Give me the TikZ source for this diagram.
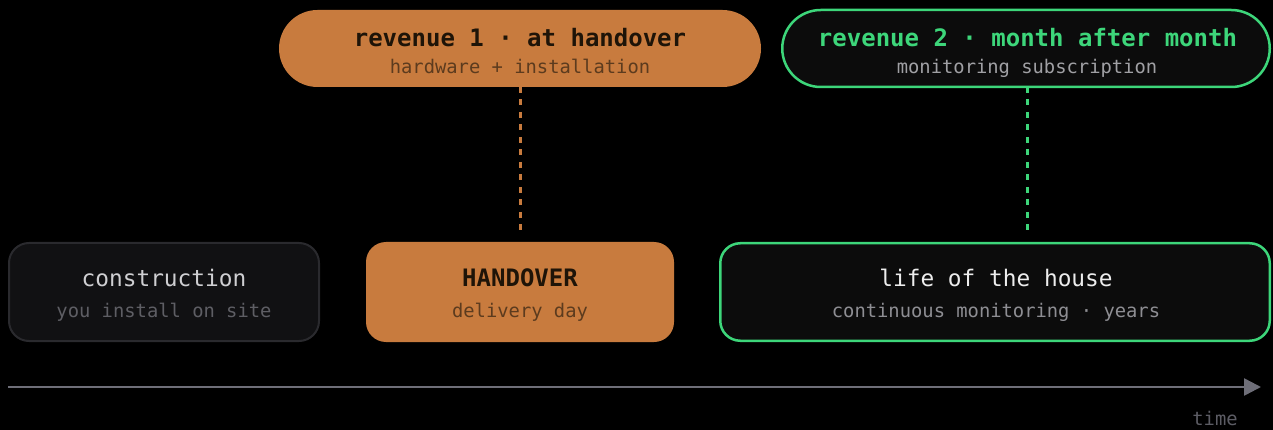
\documentclass[tikz,border=0pt]{standalone}
\usepackage{fontspec}
\setmonofont{DejaVu Sans Mono}
\newfontfamily\monofam{DejaVu Sans Mono}
\usetikzlibrary{arrows.meta}

\definecolor{bgblack}{HTML}{000000}
\definecolor{rust}{HTML}{C87B3E}
\definecolor{rustink}{HTML}{1E1408}
\definecolor{rustsub}{HTML}{5C3B1E}
\definecolor{mint}{HTML}{3DD67A}
\definecolor{panel}{HTML}{0C0C0C}
\definecolor{dimpanel}{HTML}{111113}
\definecolor{dimedge}{HTML}{2A2A2E}
\definecolor{dimtitle}{HTML}{CFCFD2}
\definecolor{dimsub}{HTML}{5E5E64}
\definecolor{brighttitle}{HTML}{EDEDED}
\definecolor{greysub}{HTML}{8E8E93}
\definecolor{lightsub}{HTML}{A0A0A4}
\definecolor{axis}{HTML}{6E6E78}
\definecolor{axislabel}{HTML}{5C5C64}

\tikzset{
  box/.style={rectangle, inner sep=0pt, outer sep=0pt},
  pill/.style={box, minimum height=77pt, rounded corners=38.5pt},
  card/.style={box, minimum height=98pt, rounded corners=20pt},
  boldtitle/.style={anchor=base, inner sep=0pt, font=\monofam\bfseries\fontsize{24}{28}\selectfont},
  plaintitle/.style={anchor=base, inner sep=0pt, font=\monofam\fontsize{22.8}{27}\selectfont},
  subline/.style={anchor=base, inner sep=0pt, font=\monofam\fontsize{18.8}{22}\selectfont},
  tie/.style={line width=3pt, dash pattern=on 6pt off 6.5pt},
}

\begin{document}
\begin{tikzpicture}[x=1pt, y=-1pt]
  \useasboundingbox (0,0) rectangle (1273,430);
  \fill[bgblack] (0,0) rectangle (1273,430);

  % revenue pills
  \node[pill, fill=rust, minimum width=482pt] (rev1) at (520,48.5) {};
  \node[pill, fill=panel, draw=mint, line width=2.5pt, minimum width=487.5pt] (rev2) at (1026,48.5) {};
  \node[boldtitle, text=rustink] (rev1t) at (520,47) {revenue 1 · at handover};
  \node[subline, text=rustsub] (rev1s) at (520,74) {hardware + installation};
  \node[boldtitle, text=mint] (rev2t) at (1027.5,47) {revenue 2 · month after month};
  \node[subline, text=lightsub] (rev2s) at (1027,74) {monitoring subscription};

  % phase cards
  \node[card, fill=dimpanel, draw=dimedge, line width=2pt, minimum width=310pt] (build) at (164,292) {};
  \node[card, fill=rust, minimum width=308pt, minimum height=100pt] (hand) at (520,292) {};
  \node[card, fill=panel, draw=mint, line width=2.5pt, minimum width=549.5pt, minimum height=97.5pt] (life) at (995,292) {};

  \node[plaintitle, text=dimtitle] (buildt) at (164,286) {construction};
  \node[subline, text=dimsub] (builds) at (164,317) {you install on site};
  \node[boldtitle, text=rustink] (handt) at (520,286) {HANDOVER};
  \node[subline, text=rustsub] (hands) at (520,317) {delivery day};
  \node[plaintitle, text=brighttitle] (lifet) at (996,286) {life of the house};
  \node[subline, text=greysub] (lifes) at (996,317) {continuous monitoring · years};

  % dashed ties from revenue to phase
  \coordinate (tie1) at (520,232);
  \coordinate (tie2) at (1027,232);
  \draw[tie, rust] (rev1.south -| tie1) -- (tie1);
  \draw[tie, mint] (rev2.south -| tie2) -- (tie2);

  % time axis
  \coordinate (t0) at (8,387);
  \coordinate (t1) at (1261,387);
  \draw[axis, line width=2.5pt, -{Triangle[length=17pt, width=17pt]}] (t0) -- (t1);
  \node[subline, text=axislabel] (timel) at (1215,425) {time};
\end{tikzpicture}
\end{document}
